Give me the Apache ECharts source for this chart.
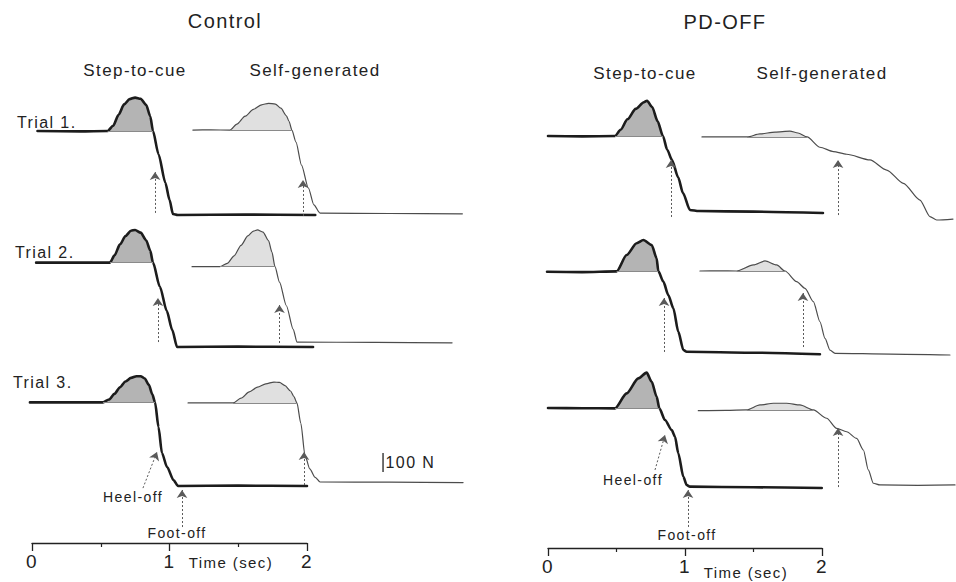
<!DOCTYPE html>
<html>
<head>
<meta charset="utf-8">
<script src="https://cdn.jsdelivr.net/npm/echarts@6/dist/echarts.min.js"></script>
<style>
  html, body { margin: 0; padding: 0; background: #fff; }
  #chart { width: 956px; height: 582px; }
  /* the printed lettering is widely tracked */
  #chart svg text { letter-spacing: 1.4px; }
</style>
</head>
<body>
<div id="chart"></div>
<script>
// Vertical force under the stepping foot for three trials per group.
// Each trace is a list of [time (s), force (N)] samples.
const panels = ['Control', 'PD-OFF'];
const conditions = ['Step-to-cue', 'Self-generated'];
const trials = ['Trial 1.', 'Trial 2.', 'Trial 3.'];
const timeTicks = [0, 1, 2];
const scaleBarN = 100;

// Control
const ctlStep1 = [[0.04,442],[0.35,440],[0.55,442],[0.59,470],[0.63,528],[0.67,582],[0.71,610],[0.75,618],[0.79,612],[0.83,580],[0.86,520],[0.88,442],[0.92,320],[0.97,170],[1.00,80],[1.025,5],[1.06,0],[1.55,2],[2.06,0]];
const ctlSelf1 = [[1.17,447],[1.30,448],[1.44,447],[1.49,478],[1.55,520],[1.61,556],[1.67,580],[1.72,588],[1.77,584],[1.81,562],[1.85,522],[1.87,492],[1.89,447],[1.92,384],[1.96,263],[2.01,142],[2.05,53],[2.095,10],[2.6,8],[3.13,6]];
const ctlStep2 = [[0.03,444],[0.30,444],[0.567,444],[0.60,482],[0.64,540],[0.68,584],[0.72,612],[0.75,616],[0.79,602],[0.83,562],[0.86,507],[0.88,444],[0.93,317],[0.98,190],[1.02,89],[1.055,0],[1.50,2],[2.044,0]];
const ctlSelf2 = [[1.164,423],[1.30,423],[1.367,423],[1.42,440],[1.47,480],[1.52,535],[1.57,585],[1.61,610],[1.64,616],[1.68,605],[1.72,560],[1.745,500],[1.767,423],[1.80,341],[1.85,217],[1.90,93],[1.927,26],[2.5,24],[3.055,22]];
const ctlStep3 = [[-0.015,440],[0.25,440],[0.516,440],[0.56,455],[0.60,485],[0.64,520],[0.68,550],[0.72,569],[0.76,578],[0.79,578],[0.82,566],[0.85,532],[0.875,482],[0.895,440],[0.92,310],[0.945,174],[0.982,100],[1.03,30],[1.062,0],[1.50,2],[2.00,0]];
const ctlSelf3 = [[1.135,437],[1.30,437],[1.462,437],[1.52,462],[1.58,495],[1.64,520],[1.70,538],[1.76,547],[1.80,545],[1.84,528],[1.88,500],[1.905,470],[1.927,437],[1.955,330],[1.985,163],[2.02,90],[2.06,45],[2.095,21],[2.6,20],[3.135,18]];

// PD-OFF
const pdStep1 = [[0,442],[0.25,440],[0.489,442],[0.53,475],[0.58,530],[0.64,585],[0.70,620],[0.723,628],[0.76,595],[0.80,520],[0.839,442],[0.87,370],[0.905,316],[0.95,225],[0.985,142],[1.036,53],[1.10,47],[1.50,44],[2.007,37]];
const pdSelf1 = [[1.124,437],[1.30,437],[1.453,437],[1.547,453],[1.657,463],[1.766,468],[1.825,458],[1.891,437],[1.985,383],[2.083,360],[2.180,346],[2.350,316],[2.472,263],[2.594,193],[2.715,105],[2.788,18],[2.837,0],[2.956,5]];
const pdStep2 = [[-0.007,438],[0.25,436],[0.501,440],[0.574,526],[0.647,588],[0.696,605],[0.757,579],[0.793,509],[0.805,442],[0.842,386],[0.878,316],[0.915,246],[0.951,123],[0.988,26],[1.012,17],[1.50,12],[1.985,4]];
const pdSelf2 = [[1.109,442],[1.25,443],[1.377,442],[1.499,474],[1.584,495],[1.669,474],[1.730,442],[1.815,386],[1.876,351],[1.937,281],[1.985,175],[2.022,88],[2.058,26],[2.095,9],[2.50,5],[2.934,0]];
const pdStep3 = [[0,421],[0.25,420],[0.489,419],[0.574,498],[0.659,577],[0.720,607],[0.757,559],[0.793,481],[0.813,419],[0.854,358],[0.903,305],[0.927,270],[0.951,183],[0.988,59],[1.012,16],[1.036,7],[1.50,4],[1.998,0]];
const pdSelf3 = [[1.097,407],[1.30,409],[1.45,411],[1.547,437],[1.645,446],[1.742,446],[1.839,437],[1.937,411],[2.034,367],[2.107,314],[2.180,296],[2.253,261],[2.302,200],[2.338,95],[2.375,25],[2.423,16],[2.70,14],[2.971,16]];

// Anticipatory loading window [start, end] (s), shaded above the standing baseline
const ctlStepApa = [[0.55, 0.88], [0.567, 0.88], [0.516, 0.895]];
const ctlSelfApa = [[1.44, 1.89], [1.367, 1.767], [1.462, 1.927]];
const pdStepApa = [[0.489, 0.839], [0.501, 0.805], [0.489, 0.813]];
const pdSelfApa = [[1.453, 1.891], [1.377, 1.730], [1.45, 1.937]];

// Heel-off arrows per trial: [[t, N] tail, [t, N] head]
const ctlStepHeel = [[[0.895, 11], [0.895, 226]], [[0.916, 26], [0.916, 258]], [[0.807, -11], [0.909, 179]]];
const ctlSelfHeel = [[[1.971, -5], [1.971, 184]], [[1.80, 21], [1.80, 221]], [[1.978, 5], [1.978, 179]]];
const pdStepHeel = [[[0.898, 16], [0.898, 316]], [[0.847, 16], [0.847, 300]], [[0.781, 95], [0.854, 279]]];
const pdSelfHeel = [[[2.117, 26], [2.117, 316]], [[1.861, 42], [1.861, 326]], [[2.117, 5], [2.117, 316]]];

// Foot-off arrow on trial 3 (step-to-cue): [[t, N] tail, [t, N] head]
const ctlFootOff = [[1.091, -216], [1.091, -21]];
const pdFootOff = [[1.022, -205], [1.022, -11]];

// ---- layout -------------------------------------------------------------
const FONT = '"Liberation Sans", Arial, Helvetica, sans-serif';
const pxPerN = 0.19;
const forceRange = [-300, 700];
const panelLayout = [
  { x0: 32, pxPerSec: 137.5, tRange: [-0.2, 3.3], zeroY: [215, 347, 486], axisY: 543,
    heelLabel: [0.735, -58], footLabel: [1.055, -247], scaleBarAt: [2.553, 74] },
  { x0: 548, pxPerSec: 137, tRange: [-0.2, 3.0], zeroY: [220, 355, 488], axisY: 548,
    heelLabel: [0.62, 42], footLabel: [1.015, -247], scaleBarAt: null }
];
const STEP = { line: '#1c1c1c', width: 2.6, fill: '#b4b4b4' };
const SELF = { line: '#4c4c4c', width: 1.2, fill: '#e0e0e0' };
const SMOOTH = 0.25;

const stepData = [[ctlStep1, ctlStep2, ctlStep3], [pdStep1, pdStep2, pdStep3]];
const selfData = [[ctlSelf1, ctlSelf2, ctlSelf3], [pdSelf1, pdSelf2, pdSelf3]];
const stepApa = [ctlStepApa, pdStepApa];
const selfApa = [ctlSelfApa, pdSelfApa];
const stepHeel = [ctlStepHeel, pdStepHeel];
const selfHeel = [ctlSelfHeel, pdSelfHeel];
const footOff = [ctlFootOff, pdFootOff];

const grids = [], xAxes = [], yAxes = [], series = [];

function addGrid(rect, xOpt, yOpt) {
  const idx = grids.length;
  grids.push(Object.assign({ containLabel: false, outerBoundsMode: 'none' }, rect));
  xAxes.push(Object.assign({ type: 'value', gridIndex: idx, show: false, splitLine: { show: false } }, xOpt));
  yAxes.push(Object.assign({ type: 'value', gridIndex: idx, show: false, splitLine: { show: false } }, yOpt));
  return idx;
}

function arrowLine(segments) {
  return {
    silent: true,
    symbol: ['none', 'arrow'],
    symbolSize: 8,
    label: { show: false },
    lineStyle: { color: '#5a5a5a', width: 1, type: [2, 2] },
    emphasis: { disabled: true },
    data: segments.map(s => [{ coord: s[0] }, { coord: s[1] }])
  };
}

function textMark(coord, text, extra) {
  return {
    symbol: 'circle', symbolSize: 1, silent: true,
    itemStyle: { color: 'rgba(0,0,0,0)' },
    label: Object.assign({ show: true, position: 'inside', formatter: text,
      color: '#222', fontSize: 14, fontFamily: FONT }, extra || {}),
    data: [{ coord: coord }]
  };
}

function bumpSeries(g, data, win, fill) {
  const pts = data.filter(p => p[0] >= win[0] && p[0] <= win[1]);
  const base = pts[0][1];
  return {
    type: 'line', xAxisIndex: g, yAxisIndex: g, data: pts,
    smooth: SMOOTH, smoothMonotone: 'x', symbol: 'none', silent: true, z: 1,
    lineStyle: { width: 0, opacity: 0 },
    areaStyle: { color: fill, opacity: 1, origin: base },
    markLine: {
      silent: true, symbol: ['none', 'none'], label: { show: false },
      lineStyle: { color: '#8a8a8a', width: 1, type: 'solid' },
      data: [[{ coord: [win[0], base] }, { coord: [win[1], base] }]]
    }
  };
}

function traceSeries(g, data, st, extra) {
  return Object.assign({
    type: 'line', xAxisIndex: g, yAxisIndex: g, data: data,
    smooth: SMOOTH, smoothMonotone: 'x', symbol: 'none', silent: true, z: 3,
    lineStyle: { color: st.line, width: st.width, cap: 'round', join: 'round' }
  }, extra);
}

panelLayout.forEach((L, p) => {
  const left = L.x0 + L.tRange[0] * L.pxPerSec;
  const width = (L.tRange[1] - L.tRange[0]) * L.pxPerSec;
  trials.forEach((trialName, i) => {
    const top = L.zeroY[i] - forceRange[1] * pxPerN;
    const height = (forceRange[1] - forceRange[0]) * pxPerN;
    const g = addGrid({ left, top, width, height },
      { min: L.tRange[0], max: L.tRange[1] },
      { min: forceRange[0], max: forceRange[1] });

    series.push(bumpSeries(g, stepData[p][i], stepApa[p][i], STEP.fill));
    series.push(bumpSeries(g, selfData[p][i], selfApa[p][i], SELF.fill));

    const stepArrows = [stepHeel[p][i]];
    const stepExtra = {};
    if (i === trials.length - 1) {
      stepArrows.push(footOff[p]);
      stepExtra.markPoint = {
        silent: true, symbol: 'circle', symbolSize: 1,
        itemStyle: { color: 'rgba(0,0,0,0)' },
        label: { show: true, position: 'inside', color: '#222', fontSize: 14, fontFamily: FONT },
        data: [
          { coord: L.heelLabel, label: { formatter: 'Heel-off' } },
          { coord: L.footLabel, label: { formatter: 'Foot-off' } }
        ]
      };
    }
    stepExtra.markLine = arrowLine(stepArrows);
    series.push(traceSeries(g, stepData[p][i], STEP, stepExtra));
    series.push(traceSeries(g, selfData[p][i], SELF, { markLine: arrowLine([selfHeel[p][i]]) }));

    // force scale bar
    if (L.scaleBarAt && i === trials.length - 1) {
      const [t, f] = L.scaleBarAt;
      series.push({
        type: 'line', xAxisIndex: g, yAxisIndex: g, symbol: 'none', silent: true,
        data: [[t, f], [t, f + scaleBarN]],
        lineStyle: { color: '#222', width: 1.3 },
        markPoint: textMark([t, f + scaleBarN / 2], scaleBarN + ' N',
          { position: 'right', distance: 2, fontSize: 16 })
      });
    }
  });

  // time axis
  const ga = addGrid({ left: L.x0, width: 2 * L.pxPerSec, top: L.axisY - 60, height: 60 },
    {
      show: true, position: 'bottom', min: timeTicks[0], max: timeTicks[timeTicks.length - 1], interval: 1,
      axisLine: { show: true, onZero: false, lineStyle: { color: '#222', width: 1.3 } },
      axisTick: { show: true, length: 8, lineStyle: { color: '#222', width: 1.3 } },
      minorTick: { show: true, splitNumber: 2, length: 4, lineStyle: { color: '#222', width: 1.2 } },
      minorSplitLine: { show: false },
      axisLabel: { show: true, color: '#222', fontSize: 19, fontFamily: FONT, margin: 9,
        formatter: v => timeTicks.includes(v) ? String(v) : '' }
    },
    { min: 0, max: 1 });
  series.push({ type: 'line', xAxisIndex: ga, yAxisIndex: ga, data: [], silent: true });
});

function txt(text, x, y, size, align) {
  return {
    type: 'text', silent: true,
    style: { text, x, y, fill: '#222', font: size + 'px ' + FONT,
      textAlign: align || 'center', textVerticalAlign: 'middle',
      align: align || 'center', verticalAlign: 'middle' }
  };
}

const graphic = [
  txt(panels[0], 225, 21, 20),
  txt(panels[1], 725, 22, 20),
  txt(conditions[0], 135, 70, 17),
  txt(conditions[1], 315, 70, 17),
  txt(conditions[0], 645, 73, 17),
  txt(conditions[1], 822, 73, 17),
  txt(trials[0], 17, 122, 16, 'left'),
  txt(trials[1], 15, 252, 16, 'left'),
  txt(trials[2], 13, 382, 16, 'left'),
  txt('Time (sec)', 231, 562, 15),
  txt('Time (sec)', 746, 572, 15)
];

const chart = echarts.init(document.getElementById('chart'), null, { renderer: 'svg' });
chart.setOption({
  backgroundColor: '#ffffff',
  animation: false,
  grid: grids,
  xAxis: xAxes,
  yAxis: yAxes,
  series: series,
  graphic: graphic
});
</script>
</body>
</html>
